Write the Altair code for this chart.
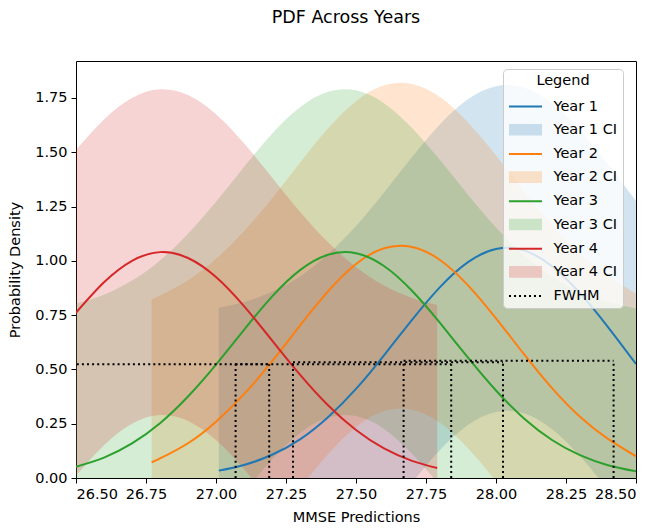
import altair as alt
import pandas as pd

# ---------------- data ----------------
years = ["Year 1", "Year 2", "Year 3", "Year 4"]
line_colors = ["#1f77b4", "#ff7f0e", "#2ca02c", "#d62728"]

year1_x = [27.01, 27.1, 27.2, 27.3, 27.4, 27.5, 27.6, 27.7, 27.8, 27.9, 28.0, 28.1, 28.2, 28.3, 28.4, 28.5]
year1_pdf = [0.034, 0.060, 0.107, 0.178, 0.280, 0.410, 0.565, 0.728, 0.879, 0.994, 1.054, 1.048, 0.975, 0.851, 0.695, 0.525]

year2_x = [26.77, 26.8, 26.9, 27.0, 27.1, 27.2, 27.3, 27.4, 27.5, 27.6, 27.7, 27.8, 27.9, 28.0, 28.1, 28.2, 28.3, 28.4, 28.5]
year2_pdf = [0.072, 0.090, 0.160, 0.259, 0.386, 0.537, 0.702, 0.859, 0.985, 1.058, 1.064, 1.004, 0.887, 0.735, 0.570, 0.414, 0.282, 0.180, 0.100]

year3_x = [26.5, 26.6, 26.7, 26.8, 26.9, 27.0, 27.1, 27.2, 27.3, 27.4, 27.5, 27.6, 27.7, 27.8, 27.9, 28.0, 28.1, 28.2, 28.3, 28.4, 28.5]
year3_pdf = [0.052, 0.094, 0.159, 0.252, 0.375, 0.522, 0.682, 0.835, 0.957, 1.028, 1.035, 0.976, 0.862, 0.714, 0.554, 0.403, 0.274, 0.175, 0.105, 0.059, 0.031]

year4_x = [26.5, 26.6, 26.7, 26.8, 26.9, 27.0, 27.1, 27.2, 27.3, 27.4, 27.5, 27.6, 27.7, 27.79]
year4_pdf = [0.761, 0.901, 1.000, 1.040, 1.013, 0.925, 0.791, 0.634, 0.476, 0.335, 0.221, 0.136, 0.079, 0.046]

ci_half_width = 0.75

fwhm_left = [27.67, 27.275, 27.07, 26.43]
fwhm_right = [28.42, 28.025, 27.84, 27.19]
fwhm_half = [0.540, 0.533, 0.524, 0.524]

x_ticks = [26.5, 26.75, 27.0, 27.25, 27.5, 27.75, 28.0, 28.25, 28.5]
y_ticks = [0.0, 0.25, 0.5, 0.75, 1.0, 1.25, 1.5, 1.75]

legend_entries = ["Year 1", "Year 1 CI", "Year 2", "Year 2 CI", "Year 3", "Year 3 CI",
                  "Year 4", "Year 4 CI", "FWHM"]
legend_strokes = ["#1f77b4", "transparent", "#ff7f0e", "transparent", "#2ca02c", "transparent",
                  "#d62728", "transparent", "black"]
legend_fills = ["transparent", "rgba(31,119,180,0.22)", "transparent", "rgba(255,127,14,0.22)",
                "transparent", "rgba(44,160,44,0.22)", "transparent", "rgba(214,39,40,0.22)", "transparent"]
# symbol paths (unit = 7 px with symbolSize 196)
LINE = "M-2.36,0H2.36"
PATCH = "M-2.36,-0.83H2.36V0.83H-2.36Z"
DOTS = ("M-2.36,0H-2.07M-1.64,0H-1.35M-0.93,0H-0.64M-0.21,0H0.08"
        "M0.5,0H0.79M1.21,0H1.5M1.93,0H2.22")
legend_shapes = [LINE, PATCH, LINE, PATCH, LINE, PATCH, LINE, PATCH, DOTS]

# ---------------- tables ----------------
rows = []
for name, col, xs, ys in zip(years, line_colors,
                             [year1_x, year2_x, year3_x, year4_x],
                             [year1_pdf, year2_pdf, year3_pdf, year4_pdf]):
    for xv, yv in zip(xs, ys):
        rows.append({"year": name, "color": col, "x": xv, "pdf": yv})
curves = pd.DataFrame(rows)

fwhm = pd.DataFrame({"year": years, "left": fwhm_left, "right": fwhm_right, "half": fwhm_half})
legend_df = pd.DataFrame({"entry": legend_entries})

FONT = "DejaVu Sans"
xscale = alt.Scale(domain=[26.5, 28.5], nice=False, zero=False)
yscale = alt.Scale(domain=[0, 1.92], nice=False, zero=False)
xaxis = alt.Axis(values=x_ticks, format=".2f", title="MMSE Predictions")
yaxis = alt.Axis(values=y_ticks, format=".2f", title="Probability Density")

base = alt.Chart(curves)

areas = base.transform_calculate(
    upper=f"datum.pdf + {ci_half_width}",
    lower=f"datum.pdf - {ci_half_width}",
).mark_area(fillOpacity=0.2, clip=True, interpolate="natural").encode(
    x=alt.X("x:Q", scale=xscale, axis=xaxis),
    y=alt.Y("lower:Q", scale=yscale, axis=yaxis),
    y2="upper:Q",
    fill=alt.Fill("color:N", scale=None),
    detail="year:N",
)

lines = base.mark_line(strokeWidth=2, clip=True, interpolate="natural").encode(
    x=alt.X("x:Q", scale=xscale),
    y=alt.Y("pdf:Q", scale=yscale),
    stroke=alt.Stroke("color:N", scale=None),
    detail="year:N",
)

dash = [2, 3.1]
hrules = alt.Chart(fwhm).mark_rule(color="black", strokeWidth=2, strokeDash=dash, clip=True).encode(
    x=alt.X("left:Q", scale=xscale),
    x2="right:Q",
    y=alt.Y("half:Q", scale=yscale),
)

vrules = alt.Chart(fwhm).transform_fold(["left", "right"], as_=["side", "xpos"]).transform_calculate(
    base="0"
).mark_rule(color="black", strokeWidth=2, strokeDash=dash, clip=True).encode(
    x=alt.X("xpos:Q", scale=xscale),
    y=alt.Y("base:Q", scale=yscale),
    y2="half:Q",
)

leg = alt.Legend(
    title="Legend", orient="none", legendX=427, legendY=8,
    fillColor="rgba(255,255,255,0.8)", strokeColor="#cccccc", cornerRadius=4, padding=5,
    titleAnchor="middle", titleFont=FONT, titleFontSize=14.5, titleFontWeight="normal", titleColor="black",
    labelFont=FONT, labelFontSize=14.5, labelColor="black", labelOffset=20,
    symbolSize=196, symbolStrokeWidth=2, symbolOpacity=1, symbolOffset=9.5,
    rowPadding=6.2, titlePadding=10,
)

legend_layer = alt.Chart(legend_df).transform_filter("false").mark_point(opacity=1, filled=True).encode(
    fill=alt.Fill("entry:N", scale=alt.Scale(domain=legend_entries, range=legend_fills), legend=leg),
    stroke=alt.Stroke("entry:N", scale=alt.Scale(domain=legend_entries, range=legend_strokes), legend=leg),
    shape=alt.Shape("entry:N", scale=alt.Scale(domain=legend_entries, range=legend_shapes), legend=leg),
)

chart = alt.layer(legend_layer, areas, lines, hrules, vrules).properties(
    width=560, height=417,
    title=alt.TitleParams("PDF Across Years", font=FONT, fontSize=17.5, fontWeight="normal",
                          color="black", anchor="middle", offset=35, dx=-10),
    autosize=alt.AutoSizeParams(type="none"),
    padding={"left": 68, "top": 53, "right": 13, "bottom": 47},
).configure_view(stroke="black", strokeWidth=1).configure_axis(
    labelFont=FONT, labelFontSize=14.5, labelColor="black",
    titleFont=FONT, titleFontSize=14.5, titleFontWeight="normal", titleColor="black",
    tickColor="black", tickSize=5, tickWidth=1, domain=False, grid=False, labelPadding=4,
).configure_axisY(titlePadding=12).configure_axisX(titlePadding=10)

chart.save("out.html", embed_options={"renderer": "svg", "actions": False})
